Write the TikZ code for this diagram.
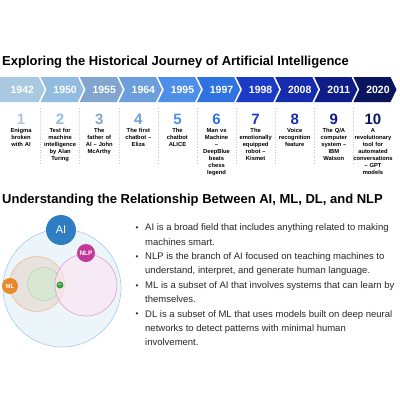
\documentclass[tikz,border=0pt]{standalone}
\usepackage{fontspec}
\setmainfont{Liberation Sans}
\usepackage{xcolor}
\usetikzlibrary{arrows.meta,positioning,calc}

%% -- timeline colours, light to dark
\definecolor{yr1}{HTML}{A9C9E1}
\definecolor{yr2}{HTML}{92BCE0}
\definecolor{yr3}{HTML}{82A5CF}
\definecolor{yr4}{HTML}{6C9EDB}
\definecolor{yr5}{HTML}{4D8FE8}
\definecolor{yr6}{HTML}{2F73E3}
\definecolor{yr7}{HTML}{1B3BC6}
\definecolor{yr8}{HTML}{162CAE}
\definecolor{yr9}{HTML}{0F1D88}
\definecolor{yr10}{HTML}{0B155E}
%% -- venn colours
\definecolor{aifill}{HTML}{EBF5FA}
\definecolor{aiedge}{HTML}{A7CBEA}
\definecolor{aiblue}{HTML}{2F7DC3}
\definecolor{mlfill}{HTML}{E8E2DF}
\definecolor{mledge}{HTML}{F2BC86}
\definecolor{mlorange}{HTML}{E8892C}
\definecolor{dlfill}{HTML}{D9E6D3}
\definecolor{dledge}{HTML}{ACDBA5}
\definecolor{dlgreen}{HTML}{3B9B3B}
\definecolor{nlpfill}{HTML}{FCE6F3}
\definecolor{nlpedge}{HTML}{E79ACB}
\definecolor{nlppink}{HTML}{C2399A}

\tikzset{
	heading/.style={font=\fontsize{13}{15}\selectfont\bfseries, anchor=base west, inner sep=0pt},
	yearlabel/.style={font=\fontsize{10.5}{12}\selectfont\bfseries, text=white, inner sep=0pt},
	bignum/.style={font=\fontsize{15}{17}\selectfont\bfseries, inner sep=0pt},
	desc/.style={font=\fontsize{5.8}{6.9}\selectfont\bfseries, align=center, text width=40pt, inner sep=0pt},
	colsep/.style={gray!45, dotted, line width=0.6pt},
	item/.style={anchor=north west, align=left, inner sep=0pt, font=\fontsize{9.5}{14.4}\selectfont, text=black!85},
	dot/.style={anchor=base, inner sep=0pt, font=\fontsize{8}{8}\selectfont, text=black!85},
	region/.style={circle, inner sep=0pt, line width=0.6pt},
	badge/.style={circle, inner sep=0pt, text=white}
}

\begin{document}
\begin{tikzpicture}[x=1pt, y=-1pt]
	\useasboundingbox (0,0) rectangle (400,400);
	
	%% -- headings
	\node[heading] (t1) at (2,65) {Exploring the Historical Journey of Artificial Intelligence};
	\node[heading] (t2) at (2,203) {Understanding the Relationship Between AI, ML, DL, and NLP};
	
	%% -- timeline chevrons with years
	\foreach \i/\yr in {1/1942,2/1950,3/1955,4/1964,5/1995,6/1997,7/1998,8/2008,9/2011,10/2020} {
		\pgfmathsetmacro{\xa}{\i==1 ? 0 : 1.5+39.1*(\i-1)}
		\pgfmathsetmacro{\nd}{\i==1 ? 0 : 6}
		\pgfmathsetmacro{\xb}{1.5+39.1*(\i-1)+37.1}
		\fill[yr\i] (\xa,77) -- (\xb,77) -- (\xb+6,89.5) -- (\xb,102)
		-- (\xa,102) -- (\xa+\nd,89.5) -- cycle;
		\node[yearlabel] (y\i) at ({(\xa+\nd+\xb+6)/2},89.5) {\yr};
	}
	
	%% -- column separators
	\foreach \i in {1,...,9}
	\draw[colsep] ({1.5+39.1*\i},108) -- ({1.5+39.1*\i},165);
	
	%% -- milestone numbers and what happened
	\foreach \i/\txt in {
		1/{Enigma\\broken\\with AI},
		2/{Test for\\machine\\intelligence\\by Alan\\Turing},
		3/{The\\father of\\AI – John\\McArthy},
		4/{The first\\chatbot –\\Eliza},
		5/{The\\chatbot\\ALICE},
		6/{Man vs\\Machine\\–\\DeepBlue\\beats\\chess\\legend},
		7/{The\\emotionally\\equipped\\robot –\\Kismet},
		8/{Voice\\recognition\\feature},
		9/{The Q/A\\computer\\system –\\IBM\\Watson},
		10/{A\\revolutionary\\tool for\\automated\\conversations\\– GPT\\models}} {
		\node[bignum, text=yr\i] (n\i) at ({21.05+39.1*(\i-1)},119) {\i};
		\node[desc, below=4pt of n\i] (d\i) {\txt};
	}
	
	%% -- venn of AI, ML, DL, NLP
	\node[region, fill=aifill, draw=aiedge, minimum size=118pt] (ai) at (62,288) {};
	\node[region, fill=mlfill, draw=mledge, minimum size=55pt] (ml) at (37,284) {};
	\node[region, fill=dlfill, draw=dledge, minimum size=33pt] (dl) at (44,284) {};
	\node[region, fill=nlpfill, fill opacity=0.65, draw=nlpedge, minimum size=62pt] (nlp) at (86,285) {};
	
	\node[badge, fill=aiblue, minimum size=30pt, font=\fontsize{11}{12}\selectfont] (aib) at (61,230) {AI};
	\node[badge, fill=nlppink, minimum size=18pt, font=\fontsize{6.5}{7}\selectfont\bfseries] (nlpb) at (86,253) {NLP};
	\node[badge, fill=mlorange, minimum size=16pt, font=\fontsize{6}{7}\selectfont\bfseries] (mlb) at (10,286) {ML};
	\node[badge, fill=dlgreen, minimum size=7pt, font=\fontsize{2.5}{3}\selectfont\bfseries] (dlb) at (60,285) {DL};
	
	%% -- bullet list (north = first baseline - strut height)
	\node[item] (i1) at (145,220.4)
	{\strut AI is a broad field that includes anything related to making\\machines smart.};
	\node[item] (i2) at (145,249.2)
	{\strut NLP is the branch of AI focused on teaching machines to\\understand, interpret, and generate human language.};
	\node[item] (i3) at (145,278.0)
	{\strut ML is a subset of AI that involves systems that can learn by\\themselves.};
	\node[item] (i4) at (145,306.8)
	{\strut DL is a subset of ML that uses models built on deep neural\\networks to detect patterns with minimal human\\involvement.};
	
	\foreach \i in {1,...,4}
	\node[dot] (b\i) at ($(i\i.north west)+(-8,10.08)$) {\textbullet};
	
\end{tikzpicture}
\end{document}
